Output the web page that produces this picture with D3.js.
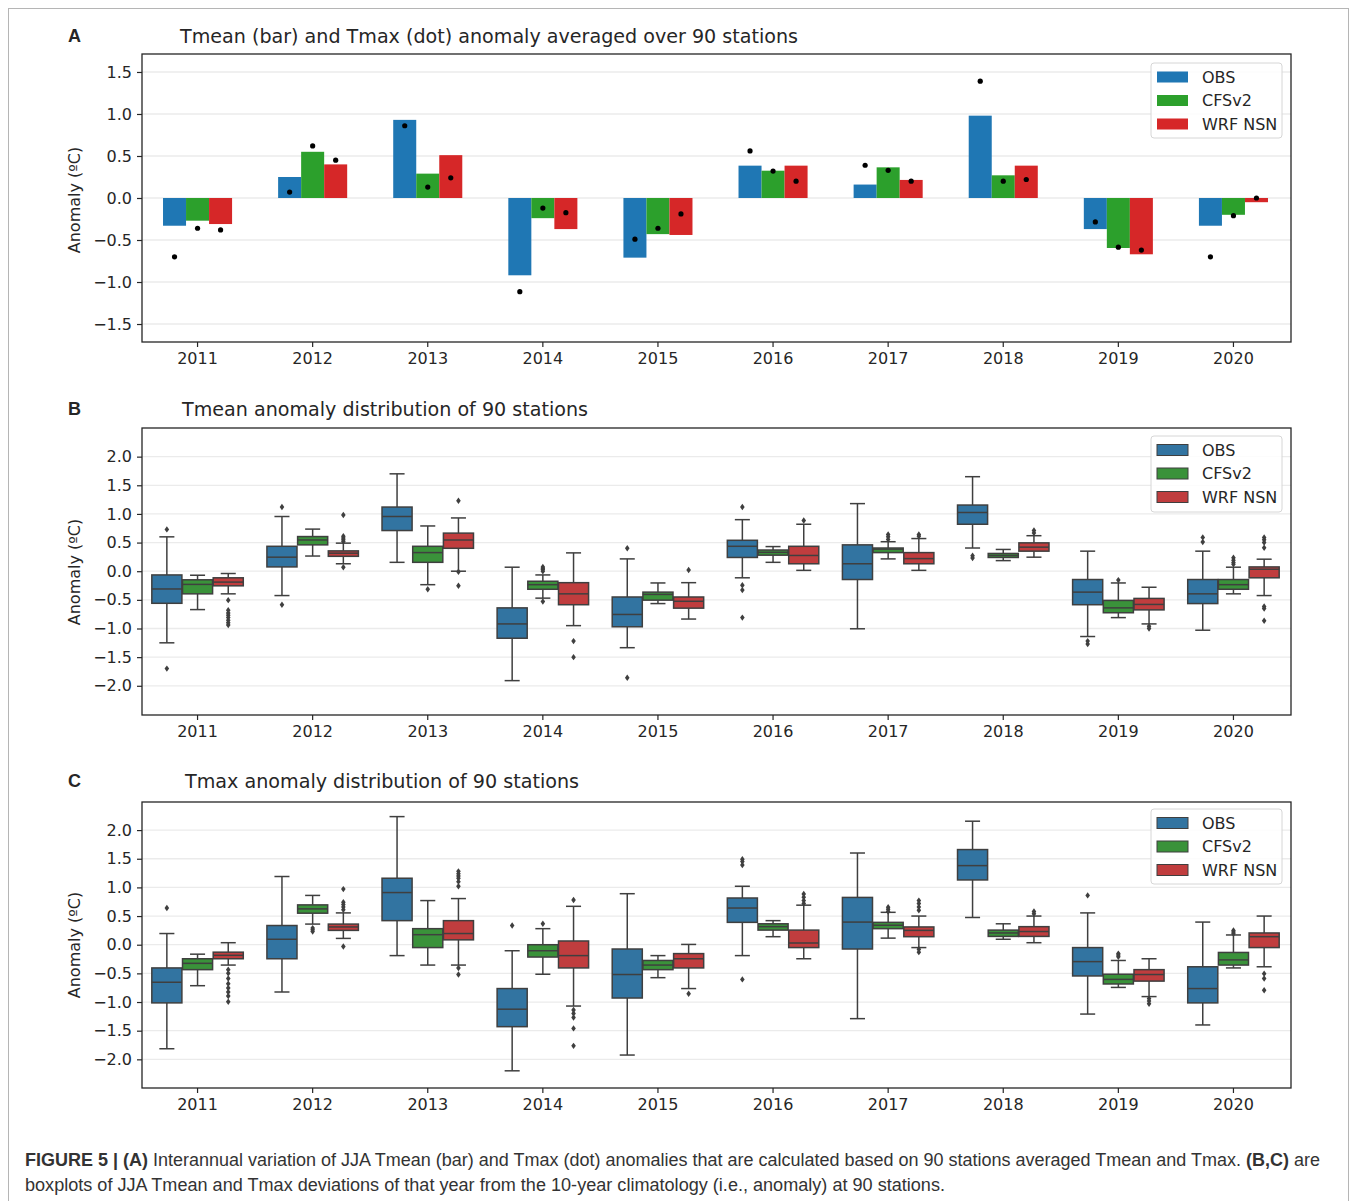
<!DOCTYPE html>
<html>
<head>
<meta charset="utf-8">
<script src="https://cdn.jsdelivr.net/npm/d3@7"></script>
<style>
  html, body { margin: 0; padding: 0; background: #fff; }
  svg text { font-family: "DejaVu Sans", sans-serif; fill: #262626; }
  svg text.caption { font-family: "Liberation Sans", Arial, sans-serif; fill: #333; }
</style>
</head>
<body>
<svg id="fig" width="1357" height="1201"></svg>
<script>
// ---- categories / series ----
const years = ["2011","2012","2013","2014","2015","2016","2017","2018","2019","2020"];
const models = ["OBS", "CFSv2", "WRF NSN"];
const barColors = ["#1f77b4", "#2ca02c", "#d62728"];
const boxColors = ["#3274a1", "#3a923a", "#c03d3e"];

// Panel A: Tmean anomaly (bars) and Tmax anomaly (dots), 90-station mean
const tmeanOBS   = [-0.33, 0.25, 0.93, -0.92, -0.71, 0.385, 0.16, 0.98, -0.37, -0.33];
const tmeanCFSv2 = [-0.27, 0.55, 0.29, -0.24, -0.43, 0.325, 0.365, 0.27, -0.595, -0.20];
const tmeanWRF   = [-0.31, 0.40, 0.51, -0.37, -0.44, 0.385, 0.215, 0.385, -0.67, -0.05];
const tmaxOBS    = [-0.70, 0.07, 0.86, -1.115, -0.49, 0.56, 0.39, 1.39, -0.285, -0.70];
const tmaxCFSv2  = [-0.36, 0.62, 0.13, -0.12, -0.36, 0.32, 0.33, 0.20, -0.585, -0.21];
const tmaxWRF    = [-0.38, 0.45, 0.24, -0.175, -0.19, 0.20, 0.20, 0.22, -0.62, 0.0];

// Panel B: Tmean box statistics per year [whisker low, Q1, median, Q3, whisker high]
const boxTmeanOBS = [
  [-1.25,-0.56,-0.31,-0.065,0.60], [-0.425,0.075,0.245,0.435,0.955], [0.155,0.71,0.955,1.12,1.70],
  [-1.91,-1.17,-0.92,-0.64,0.07], [-1.335,-0.97,-0.755,-0.45,0.215], [-0.115,0.24,0.435,0.54,0.90],
  [-1.005,-0.145,0.13,0.46,1.18], [0.405,0.82,1.025,1.155,1.65], [-1.14,-0.585,-0.365,-0.145,0.35],
  [-1.03,-0.565,-0.395,-0.145,0.35]];
const boxTmeanCFSv2 = [
  [-0.67,-0.395,-0.23,-0.15,-0.07], [0.265,0.46,0.545,0.605,0.735], [-0.235,0.155,0.325,0.435,0.79],
  [-0.47,-0.315,-0.235,-0.175,-0.065], [-0.565,-0.505,-0.405,-0.365,-0.205], [0.155,0.28,0.33,0.37,0.43],
  [0.215,0.325,0.385,0.405,0.515], [0.185,0.24,0.275,0.31,0.38], [-0.81,-0.725,-0.64,-0.51,-0.205],
  [-0.395,-0.315,-0.235,-0.145,0.07]];
const boxTmeanWRF = [
  [-0.395,-0.255,-0.19,-0.115,-0.04], [0.13,0.26,0.315,0.355,0.49], [0.0,0.40,0.545,0.665,0.93],
  [-0.95,-0.585,-0.395,-0.20,0.32], [-0.835,-0.645,-0.525,-0.45,-0.20], [0.015,0.13,0.275,0.435,0.82],
  [0.015,0.13,0.22,0.325,0.57], [0.245,0.35,0.42,0.495,0.62], [-0.92,-0.675,-0.58,-0.475,-0.28],
  [-0.425,-0.115,0.035,0.075,0.21]];
const outTmeanOBS = [[0.73,-1.70],[1.12,-0.585],[],[],[0.40,-1.86],[1.12,-0.245,-0.33,-0.81],[],[0.27,0.23],[-1.22,-1.27],[0.59,0.51]];
const outTmeanCFSv2 = [[],[],[-0.315],[0.075,0.05,0.03,0.0,-0.53],[],[],[0.64,0.60,0.555],[],[-0.155],[0.235,0.19,0.15,0.12]];
const outTmeanWRF = [[-0.505,-0.68,-0.73,-0.77,-0.81,-0.855,-0.90,-0.94],[0.98,0.61,0.58,0.55,0.52,0.07],[1.23,-0.01,-0.255],[-1.22,-1.50],[0.02],[0.885],[0.64,0.61],[0.71,0.665],[-0.96,-1.0],[0.59,0.55,0.50,0.41,-0.615,-0.65,-0.865]];

// Panel C: Tmax box statistics per year [whisker low, Q1, median, Q3, whisker high]
const boxTmaxOBS = [
  [-1.815,-1.015,-0.655,-0.405,0.195], [-0.825,-0.245,0.095,0.335,1.19], [-0.19,0.42,0.91,1.16,2.235],
  [-2.20,-1.43,-1.125,-0.765,-0.105], [-1.925,-0.93,-0.52,-0.075,0.89], [-0.19,0.39,0.64,0.815,1.02],
  [-1.29,-0.075,0.395,0.825,1.60], [0.475,1.13,1.38,1.66,2.155], [-1.21,-0.545,-0.295,-0.05,0.555],
  [-1.40,-1.015,-0.765,-0.385,0.395]];
const boxTmaxCFSv2 = [
  [-0.715,-0.435,-0.325,-0.245,-0.165], [0.36,0.55,0.625,0.695,0.86], [-0.355,-0.05,0.175,0.28,0.77],
  [-0.515,-0.215,-0.105,0.0,0.28], [-0.575,-0.435,-0.355,-0.275,-0.19], [0.14,0.255,0.315,0.365,0.42],
  [0.115,0.28,0.34,0.39,0.565], [0.095,0.145,0.205,0.255,0.365], [-0.745,-0.685,-0.605,-0.515,-0.275],
  [-0.405,-0.355,-0.265,-0.135,0.17]];
const boxTmaxWRF = [
  [-0.355,-0.245,-0.185,-0.13,0.035], [0.11,0.25,0.31,0.36,0.555], [-0.355,0.085,0.195,0.42,0.805],
  [-1.07,-0.405,-0.19,0.065,0.67], [-0.765,-0.405,-0.245,-0.155,0.005], [-0.245,-0.05,0.03,0.255,0.69],
  [-0.05,0.14,0.25,0.31,0.50], [0.035,0.145,0.23,0.315,0.50], [-0.905,-0.635,-0.52,-0.435,-0.245],
  [-0.385,-0.05,0.14,0.205,0.50]];
const outTmaxOBS = [[0.64],[],[],[0.335],[],[1.49,1.45,1.39,-0.605],[],[],[0.86],[]];
const outTmaxCFSv2 = [[],[0.29,0.26,0.23],[],[0.365],[],[],[0.655,0.62,0.58],[],[-0.155,-0.18,-0.21],[0.25,0.22,0.19]];
const outTmaxWRF = [[-0.435,-0.50,-0.59,-0.68,-0.755,-0.825,-0.895,-0.995],[0.97,0.74,0.70,0.66,0.61,-0.03],[1.28,1.24,1.20,1.16,1.10,1.02,-0.405,-0.52],[0.78,-1.14,-1.20,-1.27,-1.46,-1.765],[-0.855],[0.885,0.83,0.77,0.72],[0.77,0.72,0.66,0.60,-0.08,-0.13],[0.58,0.54],[-0.94,-0.98,-1.03],[-0.505,-0.59,-0.795]];

// tick labels
const ticksA = [-1.5, -1.0, -0.5, 0.0, 0.5, 1.0, 1.5];
const ticksBC = [-2.0, -1.5, -1.0, -0.5, 0.0, 0.5, 1.0, 1.5, 2.0];

// panel texts
const titleA = "Tmean (bar) and Tmax (dot) anomaly averaged over 90 stations";
const titleB = "Tmean anomaly distribution of 90 stations";
const titleC = "Tmax anomaly distribution of 90 stations";
const yLabel = "Anomaly (ºC)";

// ---- drawing ----
const svg = d3.select("#fig");
svg.append("rect").attr("width", 1357).attr("height", 1201).attr("fill", "#fff");
// outer figure border
svg.append("rect").attr("x", 8.5).attr("y", 8.5).attr("width", 1340).attr("height", 1220)
  .attr("fill", "none").attr("stroke", "#b5b5b5").attr("stroke-width", 1);

const left = 142, right = 1291;
const x = d3.scaleBand().domain(years).range([140, 1291]).paddingInner(0).paddingOuter(0);
const step = x.bandwidth();
const fmt = d3.format(".1f");
const axisColor = "#262626";

function panelFrame(top, bottom, domain, ticks, letter, title, titleLen, titleX, titleY, labelY) {
  const y = d3.scaleLinear().domain(domain).range([bottom, top]);
  const g = svg.append("g");
  // grid
  g.selectAll("line.grid").data(ticks).join("line")
    .attr("x1", left).attr("x2", right)
    .attr("y1", d => y(d)).attr("y2", d => y(d))
    .attr("stroke", "#ebebeb").attr("stroke-width", 1.3);
  // y axis
  const ya = g.append("g").attr("transform", `translate(${left},0)`)
    .call(d3.axisLeft(y).tickValues(ticks).tickFormat(fmt).tickSize(5).tickPadding(5));
  ya.select(".domain").remove();
  ya.selectAll("line").attr("stroke", axisColor).attr("stroke-width", 1.2);
  ya.selectAll("text").attr("font-size", 16).attr("fill", axisColor)
    .style("font-family", "DejaVu Sans");
  // x axis
  const xa = g.append("g").attr("transform", `translate(0,${bottom})`)
    .call(d3.axisBottom(x).tickSize(5).tickPadding(6));
  xa.select(".domain").remove();
  xa.selectAll("line").attr("stroke", axisColor).attr("stroke-width", 1.2);
  xa.selectAll("text").attr("font-size", 16).attr("fill", axisColor)
    .style("font-family", "DejaVu Sans");
  // letter + title
  svg.append("text").attr("x", 68).attr("y", titleY).attr("dominant-baseline", "central")
    .attr("font-size", 18).attr("font-weight", "bold").attr("fill", "#111")
    .style("font-family", "Liberation Sans, Arial, sans-serif").text(letter);
  svg.append("text").attr("x", titleX).attr("y", titleY).attr("dominant-baseline", "central")
    .attr("font-size", 20).attr("textLength", titleLen).attr("lengthAdjust", "spacingAndGlyphs")
    .text(title);
  // y label
  svg.append("text").attr("transform", `translate(74,${labelY}) rotate(-90)`)
    .attr("text-anchor", "middle").attr("dominant-baseline", "central")
    .attr("font-size", 16).text(yLabel);
  return { y, g, top, bottom };
}

function frameBorder(p) {
  svg.append("rect").attr("x", left).attr("y", p.top).attr("width", right - left)
    .attr("height", p.bottom - p.top).attr("fill", "none")
    .attr("stroke", axisColor).attr("stroke-width", 1.3);
}

function legend(top, height, colors, edged) {
  const lg = svg.append("g");
  lg.append("rect").attr("x", 1151).attr("y", top).attr("width", 131).attr("height", height)
    .attr("rx", 3).attr("fill", "#fff").attr("fill-opacity", 0.85)
    .attr("stroke", "#d6d6d6").attr("stroke-width", 1);
  models.forEach((m, i) => {
    const cy = top + 14 + i * 23.5;
    lg.append("rect").attr("x", 1157).attr("y", cy - 5.5).attr("width", 31).attr("height", 11)
      .attr("fill", colors[i])
      .attr("stroke", edged ? "#3f3f3f" : "none").attr("stroke-width", edged ? 1 : 0);
    lg.append("text").attr("x", 1202).attr("y", cy).attr("dominant-baseline", "central")
      .attr("font-size", 16).text(m);
  });
}

// ---------- Panel A ----------
const pA = panelFrame(54, 342, [-1.714, 1.714], ticksA, "A", titleA, 618, 180, 36, 200);
const tmeanSeries = [tmeanOBS, tmeanCFSv2, tmeanWRF];
const tmaxSeries = [tmaxOBS, tmaxCFSv2, tmaxWRF];
const barW = step * 0.2;
tmeanSeries.forEach((vals, k) => {
  pA.g.selectAll(null).data(vals).join("rect")
    .attr("x", (d, i) => x(years[i]) + step / 2 + (k - 1.5) * barW)
    .attr("width", barW)
    .attr("y", d => pA.y(Math.max(0, d)))
    .attr("height", d => Math.abs(pA.y(d) - pA.y(0)))
    .attr("fill", barColors[k]);
});
tmaxSeries.forEach((vals, k) => {
  pA.g.selectAll(null).data(vals).join("circle")
    .attr("cx", (d, i) => x(years[i]) + step / 2 + (k - 1) * barW)
    .attr("cy", d => pA.y(d))
    .attr("r", 2.6).attr("fill", "#000");
});
frameBorder(pA);
legend(63, 75, barColors, false);

// ---------- Box panels ----------
const edge = "#3f3f3f";
function drawBoxes(p, boxSets, outSets) {
  const hueW = step * 0.8 / 3;
  const bw = hueW * 0.98;
  boxSets.forEach((stats, k) => {
    stats.forEach((s, i) => {
      const cx = x(years[i]) + step / 2 + (k - 1) * hueW;
      const [lo, q1, med, q3, hi] = s;
      const g = p.g.append("g");
      // whiskers
      g.append("line").attr("x1", cx).attr("x2", cx).attr("y1", p.y(q3)).attr("y2", p.y(hi))
        .attr("stroke", edge).attr("stroke-width", 1.5);
      g.append("line").attr("x1", cx).attr("x2", cx).attr("y1", p.y(q1)).attr("y2", p.y(lo))
        .attr("stroke", edge).attr("stroke-width", 1.5);
      // caps
      [lo, hi].forEach(v => g.append("line")
        .attr("x1", cx - bw / 4).attr("x2", cx + bw / 4).attr("y1", p.y(v)).attr("y2", p.y(v))
        .attr("stroke", edge).attr("stroke-width", 1.5));
      // box
      g.append("rect").attr("x", cx - bw / 2).attr("width", bw)
        .attr("y", p.y(q3)).attr("height", p.y(q1) - p.y(q3))
        .attr("fill", boxColors[k]).attr("stroke", edge).attr("stroke-width", 1.5);
      // median
      g.append("line").attr("x1", cx - bw / 2).attr("x2", cx + bw / 2)
        .attr("y1", p.y(med)).attr("y2", p.y(med))
        .attr("stroke", edge).attr("stroke-width", 1.5);
      // outliers (diamonds)
      g.selectAll("path").data(outSets[k][i]).join("path")
        .attr("d", d => `M${cx},${p.y(d) - 3.2}L${cx + 2.3},${p.y(d)}L${cx},${p.y(d) + 3.2}L${cx - 2.3},${p.y(d)}Z`)
        .attr("fill", edge);
    });
  });
}

const pB = panelFrame(428, 715, [-2.51, 2.5], ticksBC, "B", titleB, 406, 182, 409, 572);
drawBoxes(pB, [boxTmeanOBS, boxTmeanCFSv2, boxTmeanWRF], [outTmeanOBS, outTmeanCFSv2, outTmeanWRF]);
frameBorder(pB);
legend(436, 76, boxColors, true);

const pC = panelFrame(802, 1088, [-2.5, 2.49], ticksBC, "C", titleC, 394, 185, 781, 945);
drawBoxes(pC, [boxTmaxOBS, boxTmaxCFSv2, boxTmaxWRF], [outTmaxOBS, outTmaxCFSv2, outTmaxWRF]);
frameBorder(pC);
legend(809, 75, boxColors, true);

// ---------- caption ----------
const cap1 = svg.append("text").attr("class", "caption").attr("x", 25).attr("y", 1166)
  .attr("font-size", 17.5).attr("textLength", 1295).attr("lengthAdjust", "spacingAndGlyphs");
cap1.append("tspan").attr("font-weight", "bold").text("FIGURE 5 | (A)");
cap1.append("tspan").text(" Interannual variation of JJA Tmean (bar) and Tmax (dot) anomalies that are calculated based on 90 stations averaged Tmean and Tmax. ");
cap1.append("tspan").attr("font-weight", "bold").text("(B,C)");
cap1.append("tspan").text(" are");
svg.append("text").attr("class", "caption").attr("x", 25).attr("y", 1191)
  .attr("font-size", 17.5).attr("textLength", 920).attr("lengthAdjust", "spacingAndGlyphs")
  .text("boxplots of JJA Tmean and Tmax deviations of that year from the 10-year climatology (i.e., anomaly) at 90 stations.");
</script>
</body>
</html>
